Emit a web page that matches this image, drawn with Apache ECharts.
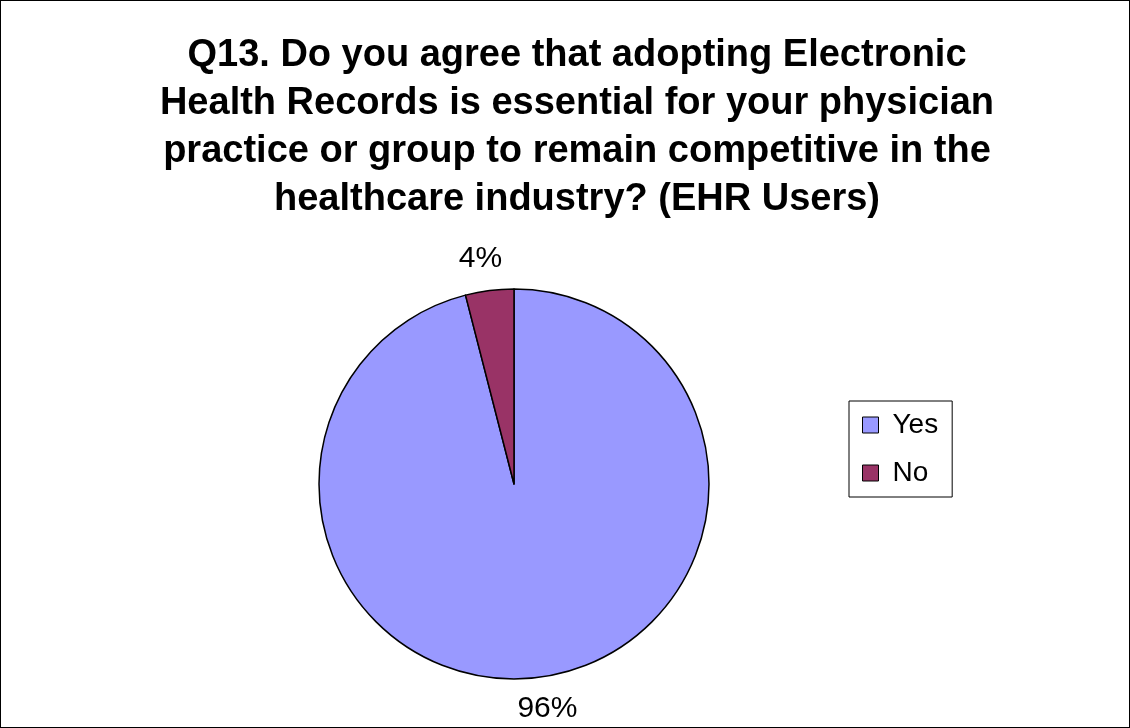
<!DOCTYPE html>
<html>
<head>
<meta charset="utf-8">
<script src="https://cdn.jsdelivr.net/npm/echarts@6/dist/echarts.min.js"></script>
<style>
  html, body { margin: 0; padding: 0; background: #fff; }
  #chart { width: 1130px; height: 728px; box-sizing: border-box; border: 1px solid #000; }
</style>
</head>
<body>
<div id="chart"></div>
<script>
const categories = ['Yes', 'No']
const values = [96, 4]
const colors = ['#9999ff', '#993366']

const myChart = echarts.init(document.getElementById('chart'))
myChart.setOption({
  animation: false,
  title: {
    text: 'Q13. Do you agree that adopting Electronic\nHealth Records is essential for your physician\npractice or group to remain competitive in the\nhealthcare industry? (EHR Users)',
    left: 571,
    top: 26,
    textAlign: 'center',
    textStyle: {
      fontFamily: 'Liberation Sans',
      fontWeight: 'bold',
      fontSize: 38,
      lineHeight: 48,
      color: '#000'
    }
  },
  legend: {
    data: categories,
    orient: 'vertical',
    left: 848,
    top: 400,
    padding: [10, 14, 10, 13],
    itemGap: 20,
    itemWidth: 16,
    itemHeight: 16,
    icon: 'rect',
    borderColor: '#000',
    borderWidth: 1,
    itemStyle: { borderColor: '#000', borderWidth: 1 },
    textStyle: { fontFamily: 'Liberation Sans', fontSize: 28, color: '#000', padding: [0, 0, 0, 9] }
  },
  series: [{
    type: 'pie',
    center: [513, 483],
    radius: 195,
    startAngle: 90,
    clockwise: true,
    data: categories.map((name, i) => ({
      name: name,
      value: values[i],
      itemStyle: { color: colors[i] }
    })),
    itemStyle: { borderColor: '#000', borderWidth: 1.5 },
    label: {
      show: true,
      position: 'outside',
      formatter: '{c}%',
      fontFamily: 'Liberation Sans',
      fontSize: 30,
      color: '#000'
    },
    labelLine: { show: false, length: 32, length2: 0 },
    labelLayout: { align: 'center', verticalAlign: 'middle' },
    emphasis: { disabled: true }
  }]
})
</script>
</body>
</html>
